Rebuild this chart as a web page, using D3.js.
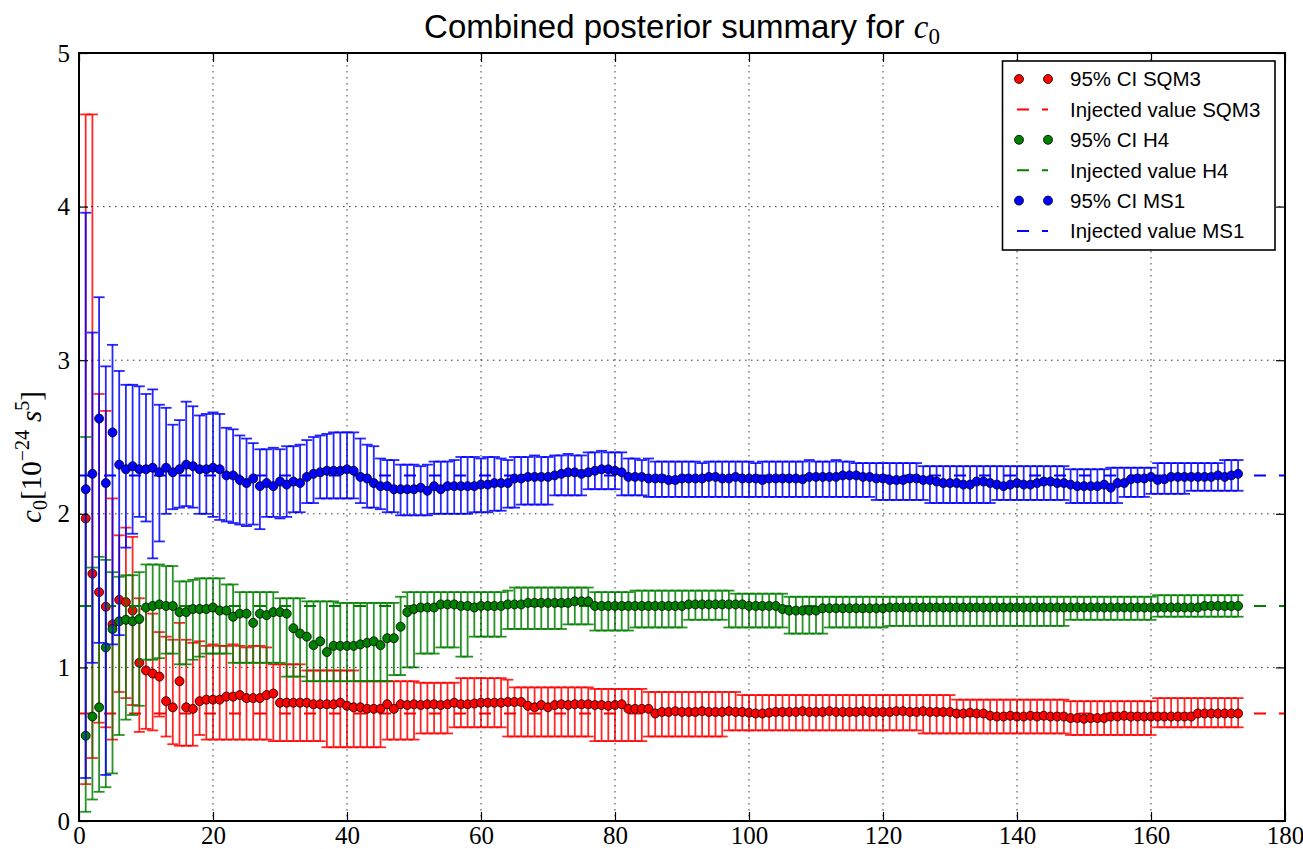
<!DOCTYPE html>
<html>
<head>
<meta charset="utf-8">
<script src="https://cdn.jsdelivr.net/npm/d3@7"></script>
<style>
  html, body { margin: 0; padding: 0; background: #fff; }
  svg { display: block; }
</style>
</head>
<body>
<svg id="chart" width="1303" height="849"></svg>
<script>
// ---- posterior summaries: median and 95% bounds for each step ----
const sqm3Mid = [
  1.97, 1.61, 1.49, 1.395, 1.28, 1.44, 1.425, 1.37, 1.03, 0.98, 0.96, 0.94, 0.78, 0.74, 0.91, 0.74, 0.73, 0.78,
  0.79, 0.79, 0.79, 0.81, 0.81, 0.82, 0.80, 0.80, 0.80, 0.82, 0.83, 0.77, 0.77, 0.77, 0.77, 0.77, 0.76, 0.76, 0.76, 0.76,
  0.77, 0.75, 0.74, 0.74, 0.73, 0.73, 0.73, 0.76, 0.73, 0.76,
  0.755, 0.76, 0.755, 0.76, 0.76, 0.755, 0.76, 0.77, 0.76, 0.76, 0.765, 0.77, 0.77, 0.77, 0.77,
  0.775, 0.775, 0.775, 0.75, 0.74, 0.755, 0.74, 0.755, 0.76, 0.755, 0.76, 0.76, 0.76, 0.755, 0.755, 0.75, 0.755, 0.76,
  0.73, 0.73, 0.73, 0.73, 0.70, 0.71, 0.71, 0.715, 0.71, 0.71, 0.71, 0.715, 0.71, 0.71, 0.71, 0.715, 0.71, 0.71,
  0.705, 0.70, 0.70, 0.705, 0.71, 0.71,
  0.71, 0.71, 0.715, 0.71, 0.71, 0.71, 0.715, 0.71, 0.71, 0.71, 0.71, 0.715, 0.71, 0.71, 0.71, 0.71, 0.715, 0.715,
  0.71, 0.71, 0.715, 0.71, 0.71, 0.71, 0.71, 0.70, 0.70, 0.705, 0.70, 0.70, 0.685, 0.68, 0.68, 0.685, 0.68, 0.68,
  0.685, 0.68, 0.685, 0.68, 0.68, 0.68,
  0.67, 0.67, 0.665, 0.67, 0.67, 0.67, 0.68, 0.68, 0.685, 0.68, 0.68, 0.68, 0.68, 0.68, 0.68, 0.68, 0.68, 0.68, 0.68,
  0.70, 0.70, 0.70, 0.70, 0.70, 0.70, 0.70
];
const sqm3Hi = [
  4.60, 4.60, 2.78, 2.67, 2.10, 1.86, 1.91, 1.85, 1.45, 1.38, 1.35, 1.23, 1.20, 1.18, 1.29, 1.18, 1.16, 1.17,
  1.14, 1.15, 1.14, 1.14, 1.15, 1.14, 1.13, 1.14, 1.14, 1.13, 1.02, 1.02, 1.02, 1.02, 1.02,
  0.98, 0.98, 0.98, 0.98, 0.98, 0.98, 0.98, 0.98,
  0.91, 0.91, 0.91, 0.91, 0.91, 0.91, 0.91, 0.91, 0.91, 0.90, 0.90, 0.90, 0.90, 0.90, 0.90,
  0.93, 0.93, 0.93, 0.93, 0.93, 0.93, 0.93,
  0.92, 0.87, 0.87, 0.87, 0.87, 0.87, 0.87, 0.87, 0.87, 0.87, 0.87, 0.87, 0.87,
  0.86, 0.86, 0.86, 0.86, 0.86, 0.86, 0.86, 0.86,
  0.84, 0.84, 0.84, 0.84, 0.84, 0.84, 0.84, 0.84, 0.84, 0.84, 0.84, 0.84, 0.84, 0.84,
  0.82, 0.82, 0.82, 0.82, 0.82, 0.82, 0.82,
  0.82, 0.82, 0.82, 0.82, 0.82, 0.82, 0.82, 0.82, 0.82, 0.82, 0.82, 0.82, 0.82, 0.82, 0.82, 0.82, 0.82, 0.82, 0.82,
  0.82, 0.82, 0.82, 0.82, 0.82, 0.82,
  0.79, 0.79, 0.79, 0.79, 0.79, 0.79, 0.79, 0.79, 0.79, 0.79, 0.79, 0.79, 0.79, 0.79, 0.79, 0.79, 0.79,
  0.78, 0.78, 0.78, 0.78, 0.78, 0.78, 0.78, 0.78, 0.78, 0.78, 0.78, 0.78, 0.78,
  0.80, 0.80, 0.80, 0.80, 0.80, 0.80, 0.80, 0.80, 0.80, 0.80, 0.80, 0.80, 0.80
];
const sqm3Lo = [
  0.24, 0.41, 0.64, 0.61, 0.53, 0.84, 0.80, 0.755, 0.58, 0.60, 0.59, 0.68, 0.55, 0.50, 0.49, 0.49, 0.49, 0.56,
  0.53, 0.53, 0.53, 0.53, 0.53, 0.53, 0.53, 0.53, 0.53, 0.53,
  0.52, 0.52, 0.52, 0.52, 0.52, 0.52, 0.52, 0.52,
  0.48, 0.48, 0.48, 0.48, 0.48, 0.48, 0.48, 0.48, 0.48,
  0.53, 0.53, 0.53, 0.53, 0.53, 0.57, 0.57, 0.57, 0.57, 0.57,
  0.61, 0.61, 0.61, 0.61, 0.61, 0.61, 0.61, 0.61,
  0.55, 0.55, 0.55, 0.55, 0.55, 0.55, 0.55, 0.55, 0.55, 0.55, 0.55, 0.55, 0.55,
  0.52, 0.52, 0.52, 0.52, 0.52, 0.52, 0.52, 0.52,
  0.55, 0.55, 0.55, 0.55, 0.55, 0.55, 0.55, 0.55, 0.55, 0.55, 0.55, 0.55,
  0.59, 0.59, 0.59, 0.59, 0.59, 0.59, 0.59, 0.59, 0.59,
  0.59, 0.59, 0.59, 0.59, 0.59, 0.59, 0.59, 0.59, 0.59, 0.59, 0.59, 0.59, 0.59, 0.59, 0.59, 0.59, 0.59, 0.59, 0.59, 0.59,
  0.57, 0.57, 0.57, 0.57, 0.57, 0.57, 0.57, 0.57, 0.57, 0.57, 0.57, 0.57, 0.57, 0.57, 0.57, 0.57, 0.57, 0.57, 0.57, 0.57,
  0.57, 0.57,
  0.56, 0.56, 0.56, 0.56, 0.56, 0.56, 0.56, 0.56, 0.56, 0.56, 0.56, 0.56, 0.56,
  0.61, 0.61, 0.61, 0.61, 0.61, 0.61, 0.61, 0.61, 0.61, 0.61, 0.61, 0.61, 0.61
];

const h4Mid = [
  0.555, 0.68, 0.74, 1.13, 1.25, 1.30, 1.31, 1.30, 1.315, 1.39, 1.40, 1.41, 1.40, 1.40, 1.36, 1.36, 1.38, 1.38,
  1.38, 1.39, 1.37, 1.37, 1.33, 1.35, 1.35, 1.29, 1.35, 1.34, 1.36, 1.36, 1.35,
  1.255, 1.22, 1.20, 1.145, 1.17, 1.10, 1.14, 1.14, 1.14, 1.14, 1.15, 1.16, 1.17, 1.145, 1.19, 1.19, 1.265,
  1.36, 1.38, 1.39, 1.39, 1.39, 1.41, 1.41, 1.41, 1.40, 1.40, 1.39, 1.40, 1.40, 1.40, 1.40,
  1.41, 1.41, 1.41, 1.42, 1.42, 1.42, 1.42, 1.42, 1.42, 1.42, 1.43, 1.43, 1.43,
  1.40, 1.40, 1.40, 1.40, 1.40, 1.40, 1.40, 1.40, 1.40, 1.40, 1.40, 1.40, 1.40, 1.40,
  1.41, 1.41, 1.41, 1.41, 1.41, 1.41, 1.41, 1.41, 1.41, 1.40, 1.40, 1.40, 1.40, 1.40, 1.38,
  1.37, 1.37, 1.37, 1.37, 1.37,
  1.385, 1.385, 1.385, 1.385, 1.385, 1.385, 1.385, 1.385, 1.385, 1.385,
  1.39, 1.39, 1.39, 1.39, 1.39, 1.39, 1.39, 1.39, 1.39, 1.39, 1.39, 1.39, 1.39, 1.39, 1.39, 1.39, 1.39, 1.39,
  1.39, 1.39, 1.39, 1.39, 1.39, 1.39, 1.39, 1.39, 1.39,
  1.39, 1.39, 1.39, 1.39, 1.39, 1.39, 1.39, 1.39, 1.39, 1.39, 1.39, 1.39, 1.39, 1.39, 1.39, 1.39, 1.39, 1.39, 1.39, 1.39,
  1.40, 1.40, 1.40, 1.40, 1.40, 1.40
];
const h4Hi = [
  2.50, 1.65, 1.72, 1.70, 1.62, 1.59, 1.60, 1.60, 1.62, 1.67, 1.67, 1.67, 1.66, 1.66, 1.56, 1.56, 1.57, 1.58,
  1.58, 1.58, 1.58, 1.54, 1.54, 1.49, 1.49, 1.49, 1.49, 1.49, 1.49, 1.45, 1.45, 1.45, 1.45,
  1.43, 1.43, 1.43, 1.43, 1.43, 1.42, 1.42, 1.42, 1.42, 1.42, 1.42, 1.42, 1.42, 1.42, 1.46,
  1.49, 1.49, 1.49, 1.49, 1.49, 1.49, 1.49, 1.49, 1.49, 1.49, 1.49, 1.49, 1.49, 1.49, 1.49,
  1.50, 1.52, 1.52, 1.52, 1.52, 1.52, 1.52, 1.52, 1.52, 1.52, 1.52, 1.52, 1.52,
  1.49, 1.49, 1.49, 1.49, 1.49, 1.49,
  1.50, 1.50, 1.50, 1.50, 1.50, 1.50, 1.50, 1.50, 1.50, 1.50, 1.50, 1.50, 1.50, 1.50, 1.50,
  1.48, 1.48, 1.48, 1.48, 1.48, 1.48, 1.48, 1.48,
  1.46, 1.46, 1.46, 1.46, 1.46, 1.46, 1.46, 1.46, 1.46, 1.46, 1.46, 1.46, 1.46, 1.46, 1.46, 1.46, 1.46, 1.46, 1.46, 1.46, 1.46,
  1.46, 1.46, 1.46, 1.46, 1.46, 1.46, 1.46, 1.46, 1.46, 1.46, 1.46, 1.46, 1.46, 1.46, 1.46, 1.46, 1.46, 1.46, 1.46, 1.46, 1.46,
  1.46, 1.46, 1.46, 1.46, 1.46, 1.46, 1.46, 1.46, 1.46, 1.46, 1.46, 1.46, 1.46,
  1.47, 1.47, 1.47, 1.47, 1.47, 1.47, 1.47, 1.47, 1.47, 1.47, 1.47, 1.47, 1.47
];
const h4Lo = [
  0.06, 0.14, 0.19, 0.22, 0.31, 0.56, 0.66, 0.69, 0.75, 1.05, 1.05, 1.06, 1.09, 1.09, 1.02, 1.02, 1.05, 1.07,
  1.09, 1.09, 1.09, 1.09, 1.03, 1.03, 1.03, 1.03, 1.03, 1.03, 1.03, 1.03,
  0.94, 0.94, 0.94, 0.91, 0.91, 0.91, 0.91, 0.91, 0.91, 0.91, 0.91, 0.91, 0.91, 0.91, 0.91, 0.91,
  0.95, 0.95, 1.00, 1.00, 1.09, 1.09, 1.09, 1.13, 1.13, 1.13, 1.07, 1.07, 1.20, 1.20, 1.20, 1.20, 1.20,
  1.25, 1.25, 1.25, 1.25, 1.25, 1.25, 1.25, 1.25, 1.25, 1.28, 1.28, 1.28, 1.28,
  1.24, 1.24, 1.24, 1.24, 1.24, 1.24, 1.26, 1.26, 1.26, 1.26, 1.26, 1.26, 1.26, 1.26,
  1.31, 1.31, 1.31, 1.31, 1.31, 1.31, 1.26, 1.26, 1.26, 1.26, 1.26, 1.26, 1.26, 1.26, 1.26,
  1.22, 1.22, 1.22, 1.22, 1.22, 1.22, 1.26, 1.26, 1.26, 1.26, 1.26, 1.26, 1.26, 1.26, 1.26,
  1.27, 1.27, 1.27, 1.27, 1.27, 1.27, 1.27, 1.27, 1.27, 1.27, 1.27, 1.27, 1.27, 1.27,
  1.27, 1.27, 1.27, 1.27, 1.27, 1.27, 1.27, 1.27, 1.27, 1.27, 1.27, 1.27, 1.27,
  1.31, 1.31, 1.31, 1.31, 1.31, 1.31, 1.31, 1.31, 1.31, 1.31, 1.31, 1.31, 1.31,
  1.33, 1.33, 1.33, 1.33, 1.33, 1.33, 1.33, 1.33, 1.33, 1.33, 1.33, 1.33, 1.33
];

const ms1Mid = [
  2.16, 2.26, 2.62, 2.20, 2.53, 2.32, 2.29, 2.31, 2.29, 2.29, 2.30, 2.27, 2.30, 2.27, 2.29, 2.32, 2.31, 2.29,
  2.29, 2.30, 2.29, 2.25, 2.25, 2.22, 2.20, 2.23, 2.18, 2.20, 2.18, 2.21, 2.19, 2.21, 2.20, 2.24, 2.26, 2.27, 2.28, 2.28, 2.28, 2.29,
  2.28, 2.24, 2.23, 2.20, 2.18, 2.18, 2.16, 2.16, 2.16, 2.16, 2.17, 2.15, 2.18, 2.16, 2.18, 2.18, 2.18, 2.18, 2.18, 2.19, 2.19, 2.20, 2.20,
  2.20, 2.23, 2.23, 2.24, 2.24, 2.24, 2.24, 2.25, 2.26, 2.27, 2.27, 2.26, 2.27, 2.28, 2.29, 2.29, 2.28, 2.27, 2.24, 2.24, 2.24,
  2.23, 2.23, 2.23, 2.22, 2.22, 2.23, 2.23, 2.23, 2.23, 2.24, 2.24, 2.23, 2.23, 2.24, 2.23, 2.23, 2.23, 2.22, 2.23, 2.23, 2.23,
  2.23, 2.23, 2.225, 2.24, 2.24, 2.24, 2.24, 2.24, 2.25, 2.25, 2.25, 2.24, 2.24, 2.23, 2.23, 2.22, 2.22, 2.22, 2.23, 2.23, 2.22,
  2.22, 2.21, 2.20, 2.20, 2.20, 2.19, 2.19, 2.21, 2.21, 2.20, 2.19, 2.18, 2.19, 2.20, 2.19, 2.19, 2.20, 2.21, 2.21, 2.20, 2.20,
  2.19, 2.18, 2.18, 2.18, 2.18, 2.19, 2.17, 2.20, 2.20, 2.225, 2.23, 2.23, 2.24, 2.22, 2.225, 2.24, 2.24, 2.24, 2.24, 2.24,
  2.24, 2.24, 2.25, 2.24, 2.25, 2.26
];
const ms1Hi = [
  3.96, 3.18, 3.41, 2.96, 3.10, 2.93, 2.84, 2.84, 2.83, 2.78, 2.81, 2.71, 2.69, 2.58, 2.61, 2.73, 2.70, 2.64,
  2.65, 2.66, 2.65, 2.56, 2.55, 2.51, 2.49, 2.46, 2.42, 2.42, 2.43, 2.42, 2.44, 2.44, 2.45, 2.48, 2.50, 2.51, 2.52, 2.53,
  2.53, 2.53, 2.53, 2.49, 2.45, 2.44, 2.36, 2.35, 2.35, 2.32, 2.32, 2.32, 2.31, 2.32, 2.34, 2.34, 2.34, 2.35, 2.37, 2.37,
  2.37, 2.36, 2.37, 2.37, 2.36,
  2.35, 2.37, 2.37, 2.37, 2.38, 2.37, 2.37, 2.38, 2.38, 2.39, 2.38, 2.38, 2.40, 2.40, 2.41, 2.40, 2.40, 2.40, 2.36, 2.36,
  2.35, 2.36, 2.34, 2.34, 2.34, 2.34, 2.34, 2.34, 2.34, 2.33, 2.34, 2.34, 2.34, 2.34, 2.34, 2.34, 2.34, 2.33, 2.34, 2.34,
  2.34, 2.34,
  2.34, 2.34, 2.34, 2.35, 2.34, 2.34, 2.34, 2.35, 2.34, 2.34, 2.33, 2.33, 2.33, 2.33, 2.33, 2.33, 2.33, 2.33, 2.33, 2.33,
  2.31, 2.31, 2.31, 2.31, 2.31, 2.31, 2.31, 2.31, 2.31, 2.31, 2.31, 2.31, 2.31, 2.31, 2.31, 2.31, 2.31, 2.31, 2.31, 2.31,
  2.31, 2.31,
  2.29, 2.29, 2.29, 2.29, 2.29, 2.29, 2.30, 2.30, 2.30, 2.30, 2.30, 2.30, 2.30,
  2.33, 2.33, 2.33, 2.33, 2.33, 2.33, 2.33, 2.33, 2.33, 2.33, 2.35, 2.35, 2.35
];
const ms1Lo = [
  0.28, 1.03, 1.16, 0.30, 1.15, 1.21, 1.78, 1.87, 1.98, 1.95, 1.71, 1.82, 2.00, 2.03, 2.04, 2.05, 2.04, 2.00,
  2.00, 1.98, 1.96, 1.95, 1.94, 1.93, 1.92, 1.93, 1.90, 1.98, 1.98, 1.97, 1.98, 2.01, 2.01, 2.07, 2.07,
  2.10, 2.10, 2.10, 2.10, 2.10, 2.10, 2.07, 2.04, 2.04, 2.03, 2.01, 2.01, 1.99, 1.99, 1.99, 1.99, 1.99,
  2.00, 2.00, 2.00, 2.00, 2.00, 2.00, 2.01, 2.01, 2.01, 2.02, 2.02,
  2.04, 2.04, 2.06, 2.06, 2.06, 2.06, 2.06, 2.12, 2.12, 2.12, 2.12, 2.12, 2.16, 2.16, 2.16, 2.16, 2.16,
  2.12, 2.12, 2.12, 2.12,
  2.11, 2.11, 2.11, 2.11, 2.11, 2.11, 2.11, 2.11, 2.11, 2.11, 2.11, 2.11, 2.11, 2.11, 2.11, 2.11, 2.11, 2.11, 2.11, 2.11, 2.11,
  2.11, 2.11, 2.11, 2.11, 2.11, 2.11, 2.11, 2.11, 2.11, 2.11, 2.11, 2.11, 2.11,
  2.09, 2.09, 2.09, 2.09, 2.09, 2.09, 2.09, 2.09,
  2.07, 2.07, 2.07, 2.07, 2.07, 2.07, 2.07, 2.07, 2.07, 2.07,
  2.09, 2.09, 2.09, 2.09, 2.09, 2.09, 2.09, 2.09, 2.09, 2.09, 2.09,
  2.07, 2.07, 2.07, 2.07, 2.07, 2.07, 2.07, 2.07, 2.11, 2.11, 2.11, 2.11,
  2.13, 2.13, 2.13, 2.13, 2.13, 2.13, 2.15, 2.15, 2.15, 2.15, 2.15, 2.15, 2.15, 2.15
];

// injected (true) parameter values
const injectedValues = [0.7, 1.4, 2.25];
const seriesNames = ["SQM3", "H4", "MS1"];
const seriesColors = ["#ff0000", "#008000", "#0000ff"];

const xTickValues = [0, 20, 40, 60, 80, 100, 120, 140, 160, 180];
const yTickValues = [0, 1, 2, 3, 4, 5];

// ---- layout ----
const svg = d3.select("#chart");
const plot = { left: 79, right: 1285, top: 53, bottom: 821 };

const x = d3.scaleLinear().domain([0, 180]).range([plot.left, plot.right]);
const y = d3.scaleLinear().domain([0, 5]).range([plot.bottom, plot.top]);

svg.append("defs").append("clipPath").attr("id", "plotClip")
  .append("rect")
  .attr("x", plot.left).attr("y", plot.top)
  .attr("width", plot.right - plot.left).attr("height", plot.bottom - plot.top);

const dataLayer = svg.append("g").attr("clip-path", "url(#plotClip)");

const seriesData = [
  { mid: sqm3Mid, lo: sqm3Lo, hi: sqm3Hi },
  { mid: h4Mid, lo: h4Lo, hi: h4Hi },
  { mid: ms1Mid, lo: ms1Lo, hi: ms1Hi }
];

const capHalf = 5.5;

seriesData.forEach((s, si) => {
  const color = seriesColors[si];
  const rows = s.mid.map((m, i) => ({ step: i + 1, mid: m, lo: s.lo[i], hi: s.hi[i] }));
  const g = dataLayer.append("g");

  // injected value reference line
  g.append("line")
    .attr("x1", x(0)).attr("x2", x(180))
    .attr("y1", y(injectedValues[si])).attr("y2", y(injectedValues[si]))
    .attr("stroke", color).attr("stroke-width", 2)
    .attr("stroke-dasharray", "12,13");

  // error bars with caps
  const bars = g.append("g")
    .attr("stroke", color).attr("stroke-width", 1.8).attr("stroke-opacity", 0.85);
  bars.selectAll("line.v").data(rows).join("line").attr("class", "v")
    .attr("x1", d => x(d.step)).attr("x2", d => x(d.step))
    .attr("y1", d => y(d.lo)).attr("y2", d => y(d.hi));
  bars.selectAll("line.top").data(rows).join("line").attr("class", "top")
    .attr("x1", d => x(d.step) - capHalf).attr("x2", d => x(d.step) + capHalf)
    .attr("y1", d => y(d.hi)).attr("y2", d => y(d.hi));
  bars.selectAll("line.bot").data(rows).join("line").attr("class", "bot")
    .attr("x1", d => x(d.step) - capHalf).attr("x2", d => x(d.step) + capHalf)
    .attr("y1", d => y(d.lo)).attr("y2", d => y(d.lo));

  // medians
  g.append("g").selectAll("circle").data(rows).join("circle")
    .attr("cx", d => x(d.step)).attr("cy", d => y(d.mid)).attr("r", 4.5)
    .attr("fill", color).attr("stroke", "#000").attr("stroke-width", 0.8);
});

// ---- grid (dotted) ----
const grid = svg.append("g").attr("stroke", "#000").attr("stroke-width", 1)
  .attr("stroke-dasharray", "1.5,4.5").attr("stroke-opacity", 0.8);
grid.selectAll("line.gx").data(xTickValues.slice(1, -1)).join("line").attr("class", "gx")
  .attr("x1", d => x(d)).attr("x2", d => x(d)).attr("y1", plot.top).attr("y2", plot.bottom);
grid.selectAll("line.gy").data(yTickValues.slice(1, -1)).join("line").attr("class", "gy")
  .attr("y1", d => y(d)).attr("y2", d => y(d)).attr("x1", plot.left).attr("x2", plot.right);

// ---- axes: inward ticks on all four sides ----
const tickFont = "'Liberation Serif', 'DejaVu Serif', serif";
const tickLen = 9;

function styleAxis(g, showLabels) {
  g.select(".domain").remove();
  g.selectAll(".tick line").attr("stroke", "#000").attr("stroke-width", 1.2);
  g.selectAll(".tick text").style("font-family", tickFont).style("font-size", "25px").attr("fill", "#000");
  if (!showLabels) g.selectAll(".tick text").remove();
}

svg.append("g").attr("transform", `translate(0,${plot.bottom})`)
  .call(d3.axisBottom(x).tickValues(xTickValues).tickSizeInner(-tickLen).tickSizeOuter(0).tickPadding(5).tickFormat(d3.format("d")))
  .call(g => styleAxis(g, true));
svg.append("g").attr("transform", `translate(0,${plot.top})`)
  .call(d3.axisTop(x).tickValues(xTickValues).tickSizeInner(-tickLen).tickSizeOuter(0))
  .call(g => styleAxis(g, false));
svg.append("g").attr("transform", `translate(${plot.left},0)`)
  .call(d3.axisLeft(y).tickValues(yTickValues).tickSizeInner(-tickLen).tickSizeOuter(0).tickPadding(9).tickFormat(d3.format("d")))
  .call(g => styleAxis(g, true));
svg.append("g").attr("transform", `translate(${plot.right},0)`)
  .call(d3.axisRight(y).tickValues(yTickValues).tickSizeInner(-tickLen).tickSizeOuter(0))
  .call(g => styleAxis(g, false));

// frame
svg.append("rect")
  .attr("x", plot.left).attr("y", plot.top)
  .attr("width", plot.right - plot.left).attr("height", plot.bottom - plot.top)
  .attr("fill", "none").attr("stroke", "#000").attr("stroke-width", 2);

// ---- title ----
const title = svg.append("text")
  .attr("x", (plot.left + plot.right) / 2).attr("y", 38)
  .attr("text-anchor", "middle")
  .style("font-family", "'Liberation Sans', Arial, sans-serif")
  .style("font-size", "33px").attr("fill", "#000");
title.append("tspan").text("Combined posterior summary for ");
title.append("tspan").style("font-family", tickFont).style("font-style", "italic").text("c");
title.append("tspan").attr("dy", 6).style("font-family", tickFont).style("font-size", "23px").text("0");

// ---- y-axis label ----
const ylab = svg.append("text")
  .attr("transform", `translate(41,${(plot.top + plot.bottom) / 2 + 20}) rotate(-90)`)
  .attr("text-anchor", "middle")
  .style("font-family", tickFont).style("font-size", "29px").attr("fill", "#000");
ylab.append("tspan").style("font-style", "italic").text("c");
ylab.append("tspan").attr("dy", 6).style("font-size", "20px").text("0");
ylab.append("tspan").attr("dy", -6).text("[10");
ylab.append("tspan").attr("dy", -12).style("font-size", "20px").text("\u221224");
ylab.append("tspan").attr("dy", 12).attr("dx", 8).style("font-style", "italic").text("s");
ylab.append("tspan").attr("dy", -12).style("font-size", "20px").text("5");
ylab.append("tspan").attr("dy", 12).text("]");

// ---- legend ----
const legend = svg.append("g");
legend.append("rect")
  .attr("x", 1002.5).attr("y", 61).attr("width", 272.5).attr("height", 189)
  .attr("fill", "#fff").attr("stroke", "#000").attr("stroke-width", 1.6);

const legendRows = [];
seriesNames.forEach((n, i) => {
  legendRows.push({ kind: "marker", color: seriesColors[i], label: `95% CI ${n}` });
  legendRows.push({ kind: "line", color: seriesColors[i], label: `Injected value ${n}` });
});
const rowY = d3.scalePoint().domain(d3.range(legendRows.length)).range([79, 231]);

legendRows.forEach((r, i) => {
  const cy = rowY(i);
  if (r.kind === "marker") {
    [1019, 1048].forEach(cx => legend.append("circle")
      .attr("cx", cx).attr("cy", cy).attr("r", 4.5)
      .attr("fill", r.color).attr("stroke", "#000").attr("stroke-width", 0.8));
  } else {
    legend.append("line")
      .attr("x1", 1017).attr("x2", 1048).attr("y1", cy).attr("y2", cy)
      .attr("stroke", r.color).attr("stroke-width", 2).attr("stroke-dasharray", "12,13");
  }
  legend.append("text")
    .attr("x", 1070).attr("y", cy).attr("dy", "0.36em")
    .style("font-family", "'Liberation Sans', Arial, sans-serif")
    .style("font-size", "20.5px").attr("fill", "#000")
    .text(r.label);
});
</script>
</body>
</html>
